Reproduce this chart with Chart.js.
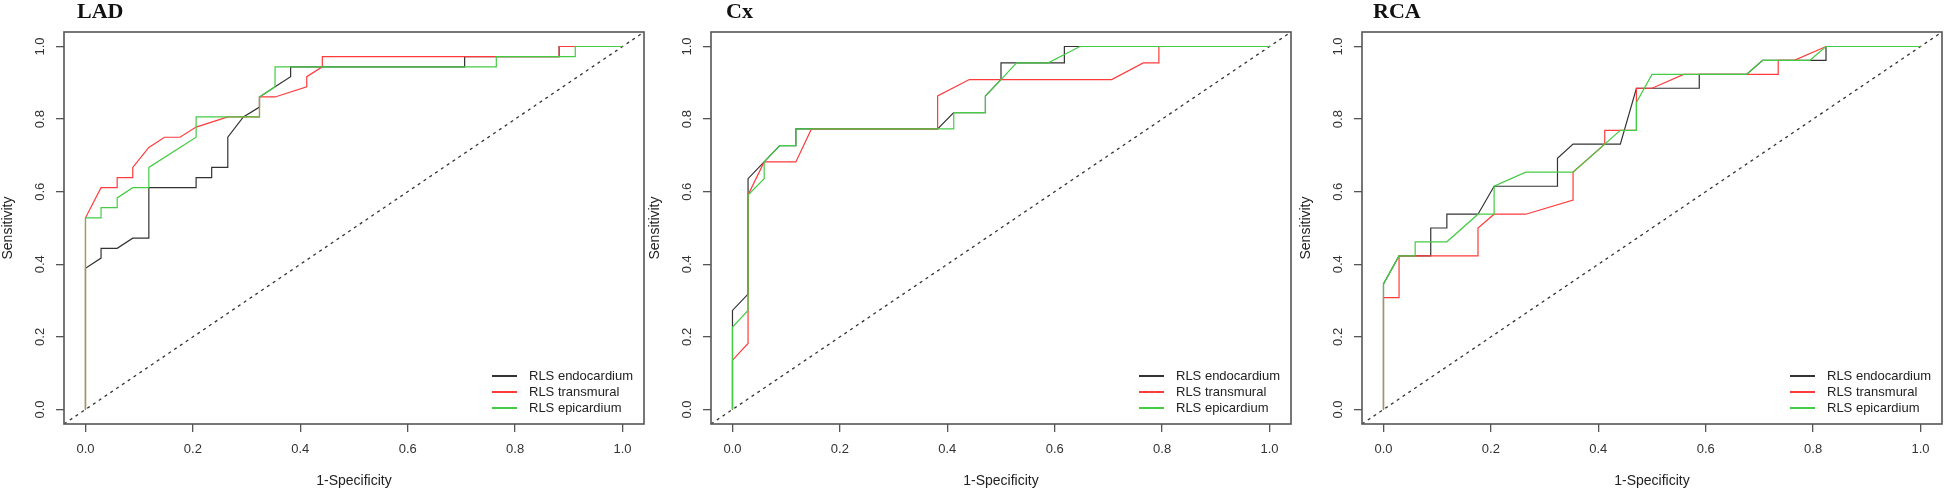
<!DOCTYPE html>
<html>
<head>
<meta charset="utf-8">
<title>ROC curves</title>
<script src="https://cdn.jsdelivr.net/npm/chart.js@4.4.1/dist/chart.umd.min.js"></script>
<style>
  html, body { margin: 0; padding: 0; background: #fff; }
  body { width: 1946px; height: 492px; position: relative; overflow: hidden; }
  .panel { position: absolute; top: 0; width: 646px; height: 492px; }
  .panel-title { position: absolute; top: 0; font: bold 22px "Liberation Serif", "Times New Roman", serif; line-height: 22px; color: #111; }
</style>
</head>
<body>
<div class="panel" style="left:0px"><canvas id="lad" width="646" height="492"></canvas></div>
<div class="panel" style="left:647px"><canvas id="cx" width="646" height="492"></canvas></div>
<div class="panel" style="left:1298px"><canvas id="rca" width="646" height="492"></canvas></div>
<div class="panel-title" style="left:77px">LAD</div>
<div class="panel-title" style="left:726px">Cx</div>
<div class="panel-title" style="left:1373px">RCA</div>
<script>
// tick labels and series names
const tickValues = [0, 0.2, 0.4, 0.6, 0.8, 1.0];
const seriesLabels = ['RLS endocardium', 'RLS transmural', 'RLS epicardium'];
const seriesColors = ['#333333', '#ff3b3b', '#45cc45'];

// chance line (diagonal)
const chanceFpr = [-0.04, 1.04];
const chanceSens = [-0.04, 1.04];

// LAD: 1-specificity (fpr) and sensitivity
const ladEndoFpr = [0, 0, 0.029, 0.029, 0.059, 0.088, 0.118, 0.118, 0.206, 0.206, 0.235, 0.235, 0.265, 0.265, 0.294, 0.324, 0.324, 0.353, 0.382, 0.382, 0.706, 0.706, 0.882, 0.882, 1];
const ladEndoSens = [0, 0.389, 0.417, 0.444, 0.444, 0.472, 0.472, 0.611, 0.611, 0.639, 0.639, 0.667, 0.667, 0.75, 0.806, 0.833, 0.861, 0.889, 0.917, 0.944, 0.944, 0.972, 0.972, 1, 1];
const ladTransFpr = [0, 0, 0.029, 0.059, 0.059, 0.088, 0.088, 0.118, 0.147, 0.176, 0.206, 0.265, 0.324, 0.324, 0.353, 0.412, 0.412, 0.441, 0.441, 0.882, 0.882, 1];
const ladTransSens = [0, 0.528, 0.611, 0.611, 0.639, 0.639, 0.667, 0.722, 0.75, 0.75, 0.778, 0.806, 0.806, 0.861, 0.861, 0.889, 0.917, 0.944, 0.972, 0.972, 1, 1];
const ladEpiFpr = [0, 0, 0.029, 0.029, 0.059, 0.059, 0.088, 0.118, 0.118, 0.206, 0.206, 0.324, 0.324, 0.353, 0.353, 0.765, 0.765, 0.912, 0.912, 1];
const ladEpiSens = [0, 0.528, 0.528, 0.556, 0.556, 0.583, 0.611, 0.611, 0.667, 0.75, 0.806, 0.806, 0.861, 0.889, 0.944, 0.944, 0.972, 0.972, 1, 1];

// Cx
const cxEndoFpr = [0, 0, 0.029, 0.029, 0.059, 0.088, 0.118, 0.118, 0.382, 0.412, 0.471, 0.471, 0.5, 0.5, 0.618, 0.618, 1];
const cxEndoSens = [0, 0.273, 0.318, 0.636, 0.682, 0.727, 0.727, 0.773, 0.773, 0.818, 0.818, 0.864, 0.909, 0.955, 0.955, 1, 1];
const cxTransFpr = [0, 0, 0.029, 0.029, 0.059, 0.118, 0.147, 0.382, 0.382, 0.441, 0.706, 0.765, 0.794, 0.794, 1];
const cxTransSens = [0, 0.136, 0.182, 0.591, 0.682, 0.682, 0.773, 0.773, 0.864, 0.909, 0.909, 0.955, 0.955, 1, 1];
const cxEpiFpr = [0, 0, 0.029, 0.029, 0.059, 0.059, 0.088, 0.118, 0.118, 0.412, 0.412, 0.471, 0.471, 0.5, 0.529, 0.588, 0.647, 1];
const cxEpiSens = [0, 0.227, 0.273, 0.591, 0.636, 0.682, 0.727, 0.727, 0.773, 0.773, 0.818, 0.818, 0.864, 0.909, 0.955, 0.955, 1, 1];

// RCA
const rcaEndoFpr = [0, 0, 0.029, 0.088, 0.088, 0.118, 0.118, 0.176, 0.206, 0.324, 0.324, 0.353, 0.441, 0.471, 0.588, 0.588, 0.676, 0.706, 0.824, 0.824, 1];
const rcaEndoSens = [0, 0.346, 0.423, 0.423, 0.5, 0.5, 0.538, 0.538, 0.615, 0.615, 0.692, 0.731, 0.731, 0.885, 0.885, 0.923, 0.923, 0.962, 0.962, 1, 1];
const rcaTransFpr = [0, 0, 0.029, 0.029, 0.176, 0.176, 0.206, 0.265, 0.353, 0.353, 0.412, 0.412, 0.471, 0.471, 0.5, 0.559, 0.735, 0.735, 0.765, 0.824, 1];
const rcaTransSens = [0, 0.308, 0.308, 0.423, 0.423, 0.5, 0.538, 0.538, 0.577, 0.654, 0.731, 0.769, 0.769, 0.885, 0.885, 0.923, 0.923, 0.962, 0.962, 1, 1];
const rcaEpiFpr = [0, 0, 0.029, 0.059, 0.059, 0.118, 0.176, 0.206, 0.206, 0.265, 0.353, 0.441, 0.471, 0.471, 0.5, 0.676, 0.706, 0.794, 0.824, 1];
const rcaEpiSens = [0, 0.346, 0.423, 0.423, 0.462, 0.462, 0.538, 0.538, 0.615, 0.654, 0.654, 0.769, 0.769, 0.846, 0.923, 0.923, 0.962, 0.962, 1, 1];

Chart.defaults.font.family = '"Liberation Sans", Arial, sans-serif';

const toPoints = (xs, ys) => xs.map((x, i) => ({ x: x, y: ys[i] }));

// box around the plot region, like R's bty="o"
const plotFrame = {
  id: 'plotFrame',
  afterDraw(chart) {
    const { ctx, chartArea: a } = chart;
    ctx.save();
    ctx.strokeStyle = '#555';
    ctx.lineWidth = 1.6;
    ctx.strokeRect(a.left, a.top, a.right - a.left, a.bottom - a.top);
    ctx.restore();
  }
};

// legend drawn inside the plot, bottom right
const insideLegend = {
  id: 'insideLegend',
  afterDatasetsDraw(chart) {
    const { ctx, chartArea: a } = chart;
    ctx.save();
    ctx.font = '13px "Liberation Sans", Arial, sans-serif';
    ctx.textBaseline = 'middle';
    ctx.fillStyle = '#222';
    chart.data.datasets.filter(d => !d.chance).forEach((d, i) => {
      const y = a.bottom - 48 + i * 16;
      ctx.strokeStyle = d.borderColor;
      ctx.lineWidth = 2;
      ctx.beginPath();
      ctx.moveTo(a.right - 152, y);
      ctx.lineTo(a.right - 127, y);
      ctx.stroke();
      ctx.fillText(d.label, a.right - 115, y);
    });
    ctx.restore();
  }
};

const drawPanel = (canvasId, fprs, senss) => {
  const ctx = document.getElementById(canvasId).getContext('2d');
  const datasets = seriesLabels.map((label, k) => ({
    label: label,
    data: toPoints(fprs[k], senss[k]),
    borderColor: seriesColors[k],
    borderWidth: 1.2,
    pointRadius: 0,
    tension: 0,
    order: 3 - k // epicardium on top, as in R
  }));
  datasets.push({
    label: 'chance',
    chance: true,
    data: toPoints(chanceFpr, chanceSens),
    borderColor: '#333',
    borderWidth: 1.3,
    borderDash: [3, 4],
    pointRadius: 0,
    order: 4
  });

  return new Chart(ctx, {
    type: 'line',
    data: { datasets: datasets },
    options: {
      responsive: false,
      animation: false,
      events: [],
      layout: { padding: { top: 32, right: 2, left: 0, bottom: 0 } },
      plugins: { legend: { display: false }, tooltip: { enabled: false } },
      scales: {
        x: {
          type: 'linear',
          min: -0.04,
          max: 1.04,
          afterBuildTicks: s => { s.ticks = tickValues.map(v => ({ value: v })); },
          afterFit: s => { s.height = 68; },
          grid: { drawOnChartArea: false, tickLength: 8, color: '#555', lineWidth: 1.3 },
          border: { display: false },
          ticks: { padding: 10, color: '#333', font: { size: 13 }, maxRotation: 0, autoSkip: false, callback: v => v.toFixed(1) },
          title: { display: true, text: '1-Specificity', color: '#222', font: { size: 14 }, padding: { top: 0, bottom: 2 } }
        },
        y: {
          type: 'linear',
          min: -0.04,
          max: 1.04,
          afterBuildTicks: s => { s.ticks = tickValues.map(v => ({ value: v })); },
          afterFit: s => { s.width = 64; },
          grid: { drawOnChartArea: false, tickLength: 8, color: '#555', lineWidth: 1.3 },
          border: { display: false },
          ticks: { padding: 7, color: '#333', font: { size: 13 }, minRotation: 90, maxRotation: 90, crossAlign: 'center', autoSkip: false, callback: v => v.toFixed(1) },
          title: { display: true, text: 'Sensitivity', color: '#222', font: { size: 14 }, padding: { top: 0, bottom: 0 } }
        }
      }
    },
    plugins: [plotFrame, insideLegend]
  });
};

drawPanel('lad', [ladEndoFpr, ladTransFpr, ladEpiFpr], [ladEndoSens, ladTransSens, ladEpiSens]);
drawPanel('cx', [cxEndoFpr, cxTransFpr, cxEpiFpr], [cxEndoSens, cxTransSens, cxEpiSens]);
drawPanel('rca', [rcaEndoFpr, rcaTransFpr, rcaEpiFpr], [rcaEndoSens, rcaTransSens, rcaEpiSens]);
</script>
</body>
</html>
